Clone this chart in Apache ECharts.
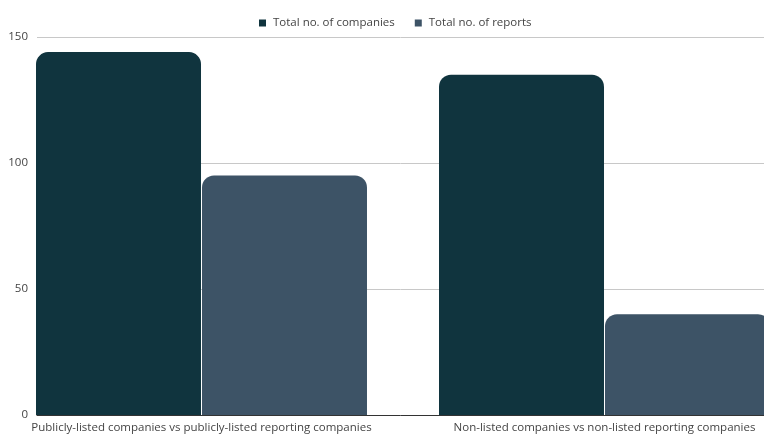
<!DOCTYPE html>
<html>
<head>
<meta charset="utf-8">
<script src="https://cdn.jsdelivr.net/npm/echarts@6/dist/echarts.min.js"></script>
<style>
  html, body { margin: 0; padding: 0; background: #fff; }
  #chart { width: 764px; height: 436px; }
</style>
</head>
<body>
<div id="chart"></div>
<script>
const categories = [
  'Publicly-listed companies vs publicly-listed reporting companies',
  'Non-listed companies vs non-listed reporting companies'
];
const companies = [144, 135];
const reports = [95, 40];
const yTicks = [0, 50, 100, 150];

const FONT = '"Open Sans", "Noto Sans", sans-serif';
const TEXT = '#444';

const chart = echarts.init(document.getElementById('chart'), null, { renderer: 'canvas' });

chart.setOption({
  animation: false,
  textStyle: { fontFamily: FONT },
  legend: {
    top: 12,
    left: 254,
    icon: 'rect',
    itemWidth: 7,
    itemHeight: 7,
    itemGap: 20,
    textStyle: { fontFamily: FONT, fontSize: 11.5, color: TEXT, padding: [0, 0, 0, 2] },
    data: ['Total no. of companies', 'Total no. of reports']
  },
  grid: [
    // bar area: wide bands, last group runs past the right edge
    { left: 0, right: -42, top: 37, bottom: 21, outerBoundsMode: 'none', containLabel: false },
    // frame: y labels, gridlines, baseline
    { left: 37, right: 0, top: 37, bottom: 21, outerBoundsMode: 'none', containLabel: false }
  ],
  xAxis: [
    {
      type: 'category',
      gridIndex: 0,
      data: categories,
      axisLine: { show: false },
      axisTick: { show: false },
      axisLabel: { fontFamily: FONT, fontSize: 11.5, color: TEXT, margin: 7, interval: 0, hideOverlap: false }
    },
    {
      type: 'value',
      gridIndex: 1,
      min: 0, max: 1,
      axisLine: { show: true, onZero: false, lineStyle: { color: '#333', width: 1 } },
      axisTick: { show: false },
      axisLabel: { show: false },
      splitLine: { show: false }
    }
  ],
  yAxis: [
    {
      type: 'value',
      gridIndex: 0,
      min: yTicks[0], max: yTicks[yTicks.length - 1], interval: 50,
      show: false
    },
    {
      type: 'value',
      gridIndex: 1,
      min: yTicks[0], max: yTicks[yTicks.length - 1], interval: 50,
      axisLine: { show: false },
      axisTick: { show: false },
      axisLabel: { fontFamily: FONT, fontSize: 11.5, color: TEXT, margin: 9 },
      splitLine: { lineStyle: { color: '#c8c8c8', width: 1 } }
    }
  ],
  series: [
    {
      name: 'Total no. of companies',
      type: 'bar',
      xAxisIndex: 0, yAxisIndex: 0,
      data: companies,
      barWidth: 165,
      barGap: '0.6%',
      itemStyle: { color: '#10343e', borderRadius: [12, 12, 0, 0] }
    },
    {
      name: 'Total no. of reports',
      type: 'bar',
      xAxisIndex: 0, yAxisIndex: 0,
      data: reports,
      barWidth: 165,
      barGap: '0.6%',
      itemStyle: { color: '#3d5366', borderRadius: [12, 12, 0, 0] }
    }
  ]
});
</script>
</body>
</html>
